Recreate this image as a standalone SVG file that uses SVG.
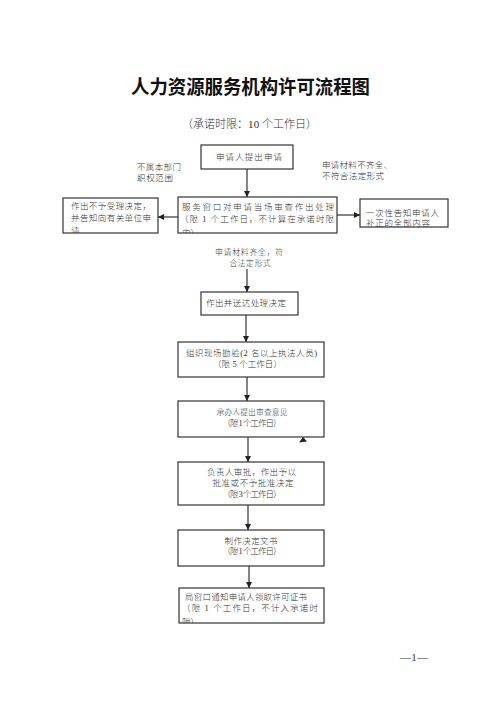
<svg xmlns="http://www.w3.org/2000/svg" width="500" height="707" viewBox="0 0 500 707">
<style>
text{font-family:"Liberation Serif","Noto Sans CJK SC",serif;fill:#333;font-size:8.5px;font-weight:300}
.title{font-size:19px;font-weight:bold;fill:#111}
.sub{font-size:11px;fill:#333}
.box{fill:#fff;stroke:#333;stroke-width:1.2}
.c{text-anchor:middle}
.s{font-size:7.8px}
.conn line{stroke:#333;stroke-width:1.2;marker-end:url(#ah)}
</style>
<defs>
<marker id="ah" markerUnits="userSpaceOnUse" markerWidth="7" markerHeight="7" refX="6" refY="3.5" orient="auto">
<path d="M0,0.5 L6,3.5 L0,6.5 Z" fill="#222"/>
</marker>
<clipPath id="cl2"><rect x="178" y="197" width="159" height="36"/></clipPath>
<clipPath id="clL"><rect x="63" y="198" width="95" height="35"/></clipPath>
<clipPath id="cl8"><rect x="179" y="588" width="145" height="35"/></clipPath>
</defs>
<rect width="500" height="707" fill="#fff"/>
<text class="title c" x="250.5" y="94" textLength="239" lengthAdjust="spacingAndGlyphs">人力资源服务机构许可流程图</text>
<text class="sub c" x="249.5" y="128" textLength="135" lengthAdjust="spacing">（承诺时限：10 个工作日）</text>

<g id="n1">
<rect class="box" x="201" y="145" width="92" height="24"/>
<text class="c" x="249" y="160" textLength="66" lengthAdjust="spacing">申请人提出申请</text>
</g>
<g id="lbl-left">
<text x="137" y="169.5" textLength="44" lengthAdjust="spacing">不属本部门</text>
<text x="137" y="180.5" textLength="36" lengthAdjust="spacing">职权范围</text>
</g>
<g id="lbl-right">
<text x="322" y="168" textLength="70" lengthAdjust="spacing">申请材料不齐全、</text>
<text x="322" y="179" textLength="62" lengthAdjust="spacing">不符合法定形式</text>
</g>
<g id="n2">
<rect class="box" x="178" y="197" width="159" height="36"/>
<g clip-path="url(#cl2)">
<text x="182" y="210" textLength="152" lengthAdjust="spacing">服务窗口对申请当场审查作出处理</text>
<text x="180" y="222" textLength="154" lengthAdjust="spacing">（限 1 个工作日，不计算在承诺时限</text>
<text x="182" y="236">内）</text>
</g>
</g>
<g id="nL">
<rect class="box" x="63" y="198" width="95" height="35"/>
<g clip-path="url(#clL)">
<text x="71" y="209" textLength="80" lengthAdjust="spacing">作出不予受理决定，</text>
<text x="71" y="220.5" textLength="80" lengthAdjust="spacing">并告知向有关单位申</text>
<text x="71" y="234">请</text>
</g>
</g>
<g id="nR">
<rect class="box" x="360" y="199" width="88" height="28"/>
<text x="366" y="215.5" textLength="73" lengthAdjust="spacing">一次性告知申请人</text>
<text x="366" y="226" textLength="64" lengthAdjust="spacing">补正的全部内容</text>
</g>
<g id="lbl-mid">
<text class="c s" x="249" y="255" textLength="68" lengthAdjust="spacing">申请材料齐全，符</text>
<text class="c s" x="250" y="265.5" textLength="41" lengthAdjust="spacing">合法定形式</text>
</g>
<g id="n3">
<rect class="box" x="201" y="292" width="97" height="23"/>
<text x="206" y="305.5" textLength="80" lengthAdjust="spacing">作出并送达处理决定</text>
</g>
<g id="n4">
<rect class="box" x="178" y="342" width="146" height="35"/>
<text x="186" y="355.5" textLength="131" lengthAdjust="spacing">组织现场勘验(2 名以上执法人员)</text>
<text class="c" x="247.5" y="366.5" textLength="69" lengthAdjust="spacing">（限 5 个工作日）</text>
</g>
<g id="n5">
<rect class="box" x="178" y="401" width="146" height="36"/>
<text class="c s" x="252" y="415" textLength="71" lengthAdjust="spacing">承办人提出审查意见</text>
<text class="c" x="252" y="425.5" textLength="59" lengthAdjust="spacing">（限 1 个工作日）</text>
</g>
<polygon points="303,437 299,442.5 307,441.5" fill="#222"/>
<g id="n6">
<rect class="box" x="178" y="462" width="146" height="43"/>
<text class="c" x="251.5" y="474.5" textLength="89" lengthAdjust="spacing">负责人审批，作出予以</text>
<text class="c" x="253" y="485.5" textLength="81" lengthAdjust="spacing">批准或不予批准决定</text>
<text class="c" x="252" y="496.5" textLength="59" lengthAdjust="spacing">（限 3 个工作日）</text>
</g>
<g id="n7">
<rect class="box" x="178" y="530" width="146" height="36"/>
<text class="c" x="251" y="543.5" textLength="53" lengthAdjust="spacing">制作决定文书</text>
<text class="c" x="252" y="554" textLength="59" lengthAdjust="spacing">（限 1 个工作日）</text>
</g>
<g id="n8">
<rect class="box" x="179" y="588" width="145" height="35"/>
<g clip-path="url(#cl8)">
<text x="185" y="599.5" textLength="122" lengthAdjust="spacing">局窗口通知申请人领取许可证书</text>
<text x="182" y="611" textLength="136" lengthAdjust="spacing">（限 1 个工作日，不计入承诺时</text>
<text x="182" y="625">限）</text>
</g>
</g>
<g class="conn">
<line x1="247" y1="169" x2="247" y2="197"/>
<line x1="178" y1="217" x2="158" y2="217"/>
<line x1="337" y1="215" x2="360" y2="215"/>
<line x1="247" y1="269" x2="247" y2="292"/>
<line x1="246" y1="315" x2="246" y2="342"/>
<line x1="247" y1="377" x2="247" y2="401"/>
<line x1="248" y1="437" x2="248" y2="462"/>
<line x1="248" y1="505" x2="248" y2="530"/>
<line x1="249" y1="566" x2="249" y2="588"/>
</g>
<text class="c" x="414" y="661" style="font-size:11px" textLength="28" lengthAdjust="spacing">—1—</text>
</svg>
